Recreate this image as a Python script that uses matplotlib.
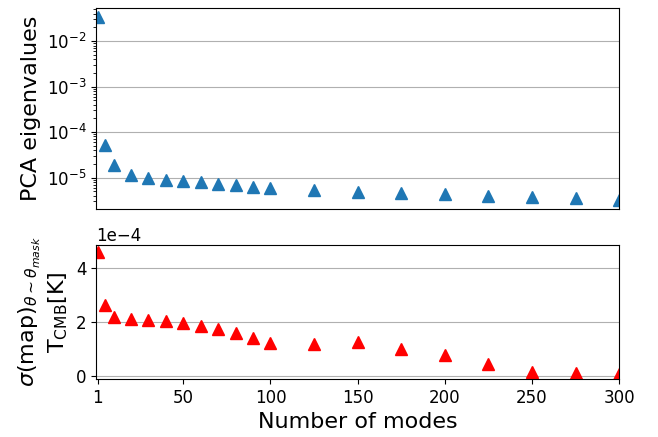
import numpy as np
import matplotlib
matplotlib.use("Agg")
import matplotlib.pyplot as plt

# number of PCA modes removed
modes = [1, 5, 10, 20, 30, 40, 50, 60, 70, 80, 90, 100,
         125, 150, 175, 200, 225, 250, 275, 300]

# PCA eigenvalues
eigvals = [3.4e-2, 5.2e-5, 1.88e-5, 1.15e-5, 9.6e-6, 8.7e-6, 8.2e-6, 7.9e-6,
           7.3e-6, 6.85e-6, 6.3e-6, 6.0e-6, 5.4e-6, 4.9e-6, 4.5e-6, 4.3e-6,
           4.0e-6, 3.8e-6, 3.5e-6, 3.25e-6]

# residual map rms in K
sigma = [4.58e-4, 2.63e-4, 2.20e-4, 2.11e-4, 2.07e-4, 2.05e-4, 1.96e-4, 1.84e-4,
         1.73e-4, 1.58e-4, 1.41e-4, 1.21e-4, 1.19e-4, 1.25e-4, 1.01e-4, 0.77e-4,
         0.44e-4, 0.14e-4, 0.10e-4, 0.06e-4]

xticks = [1, 50, 100, 150, 200, 250, 300]

fig, (ax1, ax2) = plt.subplots(2, 1, sharex=True, figsize=(6.58, 4.37), dpi=100,
                               gridspec_kw={'height_ratios': [3, 2]})
plt.subplots_adjust(left=0.146, right=0.941, top=0.982, bottom=0.133, hspace=0.215)

#%% top : eigenvalues
ax1.semilogy(modes, eigvals, '^', color='C0', markersize=8)
ax1.set_ylabel("PCA eigenvalues", fontsize=16)
ax1.grid(axis='y', which='major')
ax1.tick_params(axis='x', bottom=False)
ax1.tick_params(axis='y', labelsize=12)

#%% bottom : sigma
ax2.plot(modes, sigma, 'r^', markersize=8)
ax2.set_ylabel("$\\sigma$(map)$_{\\theta\\sim\\theta_{mask}}$\nT$_{\\rm CMB}$[K]", fontsize=16)
ax2.set_xlabel("Number of modes", fontsize=16)
ax2.grid(axis='y')
ax2.set_ylim(-0.11e-4, 4.86e-4)
ax2.set_xticks(xticks)
ax2.set_xlim(0, 300)
ax2.tick_params(labelsize=12)
ax2.ticklabel_format(axis='y', style='sci', scilimits=(0, 0))
ax2.yaxis.get_offset_text().set_fontsize(12)

plt.savefig("out.png")
